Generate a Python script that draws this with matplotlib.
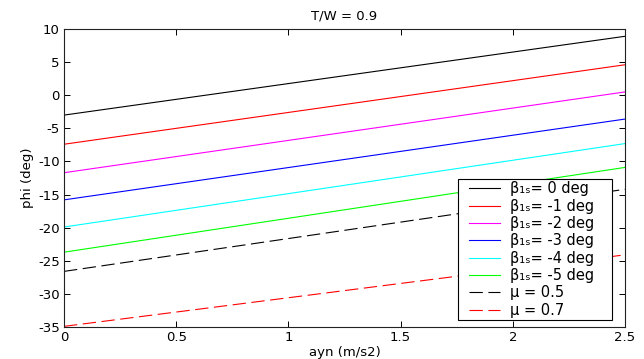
import matplotlib
matplotlib.use("Agg")
import matplotlib.pyplot as plt
from matplotlib.legend_handler import HandlerLine2D
from matplotlib.lines import Line2D

plt.rcParams['font.family'] = ['DejaVu Sans']
plt.rcParams['font.size'] = 9.5
plt.rcParams['axes.unicode_minus'] = False

# lateral acceleration range (m/s2)
ayn = [0.0, 2.5]

# bank angle phi (deg) for each flapping angle beta_1s
beta_labels = ['\u03b2\u2081\u209b= 0 deg', '\u03b2\u2081\u209b= -1 deg',
               '\u03b2\u2081\u209b= -2 deg', '\u03b2\u2081\u209b= -3 deg',
               '\u03b2\u2081\u209b= -4 deg', '\u03b2\u2081\u209b= -5 deg']
beta_colors = ['k', '#ff0000', '#ff00ff', '#0000ff', '#00ffff', '#00ff00']
phi_b0 = [-3.0, 8.9]
phi_b1 = [-7.4, 4.6]
phi_b2 = [-11.7, 0.5]
phi_b3 = [-15.8, -3.6]
phi_b4 = [-19.9, -7.3]
phi_b5 = [-23.7, -10.9]
phi_beta = [phi_b0, phi_b1, phi_b2, phi_b3, phi_b4, phi_b5]

# friction-limited curves
mu_labels = ['\u03bc = 0.5', '\u03bc = 0.7']
mu_colors = ['k', '#ff0000']
phi_mu05 = [-26.6, -14.2]
phi_mu07 = [-34.9, -24.1]
phi_mu = [phi_mu05, phi_mu07]

fig = plt.figure(figsize=(6.44, 3.59), dpi=100)
ax = fig.add_axes([0.0994, 0.0891, 0.8711, 0.8301])

for y, c, lab in zip(phi_beta, beta_colors, beta_labels):
    ax.plot(ayn, y, color=c, lw=0.8, label=lab)
for y, c, lab in zip(phi_mu, mu_colors, mu_labels):
    ax.plot(ayn, y, color=c, lw=0.8, ls=(0, (12, 5)), label=lab)

ax.set_xlim(0, 2.5)
ax.set_ylim(-35, 10)
ax.set_xticks([0, 0.5, 1, 1.5, 2, 2.5])
ax.set_xticklabels(['0', '0.5', '1', '1.5', '2', '2.5'])
ax.set_yticks(list(range(-35, 11, 5)))
ax.tick_params(direction='in', top=True, right=True, length=4, width=0.7,
               labelsize=9.5, pad=3)
for s in ax.spines.values():
    s.set_linewidth(0.8)
    s.set_color('#222222')

ax.set_title('T/W = 0.9', fontsize=9.5, pad=7)
ax.set_xlabel('ayn (m/s2)', fontsize=9.5, labelpad=1)
ax.set_ylabel('phi (deg)', fontsize=9.5, labelpad=3)

# legend box spans a fixed width; handles are inset from the left border
leg = ax.legend(loc='lower left', bbox_to_anchor=(0.702, 0.0235, 0.275, 0.47),
                mode='expand', fontsize=10.5,
                fancybox=False, framealpha=1, edgecolor='black',
                handlelength=2.75, handletextpad=0.7, labelspacing=0.16,
                borderpad=0.15, borderaxespad=0,
                handler_map={Line2D: HandlerLine2D(xpad=0.65)})
leg.get_frame().set_linewidth(0.8)

fig.savefig('out.png', dpi=100)
